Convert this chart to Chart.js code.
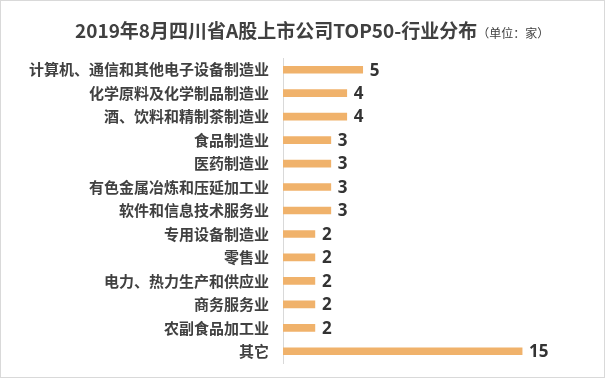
<!DOCTYPE html>
<html><head><meta charset="utf-8">
<script src="https://cdn.jsdelivr.net/npm/chart.js@4/dist/chart.umd.min.js"></script>
<style>
html,body{margin:0;padding:0;background:#fff;}
#wrap{position:relative;width:605px;height:378px;box-sizing:border-box;border:1px solid #d9d9d9;overflow:hidden;}
#title{position:absolute;left:74px;top:16px;text-align:left;font-family:"Noto Sans CJK SC","Noto Sans",sans-serif;font-weight:bold;font-size:19px;color:#404040;white-space:nowrap;line-height:26px;}
#title small{font-size:12px;font-weight:normal;color:#404040;margin-left:0px;}
#c{position:absolute;left:0;top:0;}
</style></head><body>
<div id="wrap">
<canvas id="c" width="603" height="376"></canvas>
<div id="title">2019年8月四川省A股上市公司TOP50-行业分布<small>（单位：家）</small></div>
</div>
<script>
const categories = ["计算机、通信和其他电子设备制造业","化学原料及化学制品制造业","酒、饮料和精制茶制造业","食品制造业","医药制造业","有色金属冶炼和压延加工业","软件和信息技术服务业","专用设备制造业","零售业","电力、热力生产和供应业","商务服务业","农副食品加工业","其它"];
const values = [5,4,4,3,3,3,3,2,2,2,2,2,15];

const valueLabels = {
  id:'valueLabels',
  afterDatasetsDraw(chart){
    const ctx = chart.ctx;
    const meta = chart.getDatasetMeta(0);
    ctx.save();
    ctx.font = 'bold 17px "Open Sans", sans-serif';
    ctx.fillStyle = '#333333';
    ctx.textAlign = 'left';
    ctx.textBaseline = 'middle';
    meta.data.forEach((bar,i)=>{
      ctx.fillText(String(values[i]), bar.x + 7, bar.y + 1);
    });
    ctx.restore();
  }
};

new Chart(document.getElementById('c'),{
  type:'bar',
  data:{labels:categories,datasets:[{data:values,backgroundColor:'#F0B26B',barThickness:7}]},
  options:{
    indexAxis:'y',
    responsive:false,
    animation:false,
    layout:{padding:{top:57,bottom:14,right:50,left:0}},
    plugins:{legend:{display:false},tooltip:{enabled:false}},
    scales:{
      x:{display:false,min:0,max:17},
      y:{
        afterFit(s){s.width=282;s.paddingTop=0;s.paddingBottom=0;},
        grid:{display:false,drawTicks:false},
        border:{display:true,color:'#d9d9d9',width:1},
        ticks:{padding:14,color:'#404040',font:{family:'"Noto Sans CJK SC", sans-serif',size:15,weight:'bold'}}
      }
    }
  },
  plugins:[valueLabels]
});
</script>
</body></html>
